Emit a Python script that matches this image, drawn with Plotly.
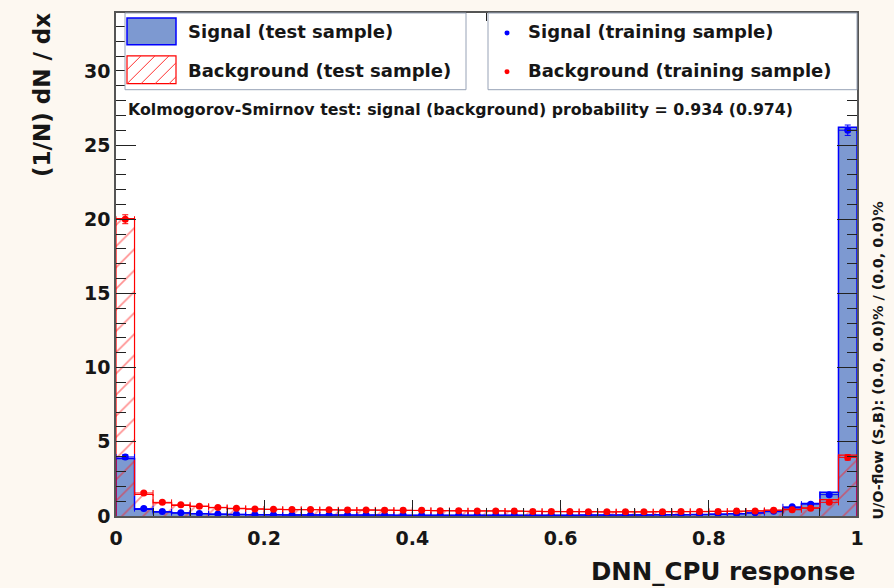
import numpy as np
import plotly.graph_objects as go

# DNN_CPU response histograms: 40 bins over [0, 1]
bin_edges = [round(0.025 * i, 3) for i in range(41)]
bin_centers = [round(0.0125 + 0.025 * i, 4) for i in range(40)]

sig_test = [3.87, 0.45, 0.27, 0.20, 0.16, 0.12, 0.10, 0.09, 0.08, 0.07,
            0.07, 0.06, 0.06, 0.06, 0.06, 0.05, 0.05, 0.05, 0.05, 0.05,
            0.05, 0.05, 0.05, 0.05, 0.05, 0.06, 0.06, 0.06, 0.07, 0.08,
            0.09, 0.10, 0.12, 0.15, 0.20, 0.30, 0.55, 0.85, 1.60, 26.2]
bkg_test = [20.05, 1.45, 0.88, 0.72, 0.65, 0.56, 0.50, 0.47, 0.44, 0.43,
            0.42, 0.41, 0.40, 0.40, 0.39, 0.38, 0.37, 0.36, 0.35, 0.35,
            0.34, 0.33, 0.32, 0.30, 0.30, 0.29, 0.28, 0.28, 0.28, 0.29,
            0.30, 0.30, 0.31, 0.32, 0.35, 0.40, 0.45, 0.55, 1.10, 4.10]
sig_train = [3.98, 0.50, 0.30, 0.22, 0.17, 0.13, 0.11, 0.09, 0.08, 0.07,
             0.07, 0.07, 0.06, 0.06, 0.06, 0.05, 0.05, 0.05, 0.05, 0.05,
             0.05, 0.05, 0.05, 0.05, 0.05, 0.06, 0.06, 0.07, 0.07, 0.08,
             0.09, 0.10, 0.13, 0.16, 0.22, 0.32, 0.62, 0.80, 1.44, 26.0]
bkg_train = [20.0, 1.55, 0.92, 0.75, 0.66, 0.58, 0.52, 0.48, 0.45, 0.44,
             0.43, 0.42, 0.40, 0.41, 0.39, 0.38, 0.38, 0.36, 0.36, 0.34,
             0.34, 0.33, 0.31, 0.31, 0.30, 0.29, 0.28, 0.29, 0.28, 0.29,
             0.30, 0.31, 0.31, 0.33, 0.34, 0.38, 0.42, 0.52, 0.92, 3.95]
sig_train_err = [0.15, 0.06, 0.05, 0.04, 0.04, 0.03, 0.03, 0.03, 0.03, 0.03,
                 0.03, 0.03, 0.03, 0.03, 0.03, 0.03, 0.03, 0.03, 0.03, 0.03,
                 0.03, 0.03, 0.03, 0.03, 0.03, 0.03, 0.03, 0.03, 0.03, 0.03,
                 0.03, 0.03, 0.04, 0.04, 0.05, 0.06, 0.08, 0.09, 0.12, 0.35]
bkg_train_err = [0.30, 0.10, 0.08, 0.07, 0.07, 0.06, 0.06, 0.06, 0.05, 0.05,
                 0.05, 0.05, 0.05, 0.05, 0.05, 0.05, 0.05, 0.05, 0.05, 0.05,
                 0.05, 0.05, 0.05, 0.05, 0.05, 0.05, 0.05, 0.05, 0.05, 0.05,
                 0.05, 0.05, 0.05, 0.05, 0.05, 0.05, 0.06, 0.06, 0.08, 0.18]

ks_text = "Kolmogorov-Smirnov test: signal (background) probability = 0.934 (0.974)"
uoflow_text = "U/O-flow (S,B): (0.0, 0.0)% / (0.0, 0.0)%"

FONT = "DejaVu Sans, Verdana, sans-serif"
TXT = "#161616"
SIG_FILL = "#7d99d1"
BIN_W = 0.025

# page geometry (pixels) of the plotting frame
W, H = 894, 588
L, R, T, B = 116, 857, 11, 516


def px(x):
    return (x - L) / (R - L)


def py(y):
    return (B - y) / (B - T)


def step_outline(vals):
    xs = [bin_edges[0]] + bin_edges[:-1] + [bin_edges[-1]]
    ys = [0] + list(vals) + [0]
    return xs, ys


fig = go.Figure()

# signal test sample: filled histogram
fig.add_trace(go.Bar(x=bin_centers, y=sig_test, width=BIN_W,
                     marker=dict(color=SIG_FILL, line=dict(width=0)),
                     showlegend=False, hoverinfo="skip"))
sx, sy = step_outline(sig_test)
fig.add_trace(go.Scatter(x=sx, y=sy, mode="lines", line_shape="hv",
                         line=dict(color="#0000ff", width=1.5),
                         showlegend=False, hoverinfo="skip"))

# background test sample: hatched histogram
fig.add_trace(go.Bar(x=bin_centers, y=bkg_test, width=BIN_W,
                     marker=dict(color="rgba(0,0,0,0)", line=dict(width=0),
                                 pattern=dict(shape="/", fgcolor="#ff2020",
                                              bgcolor="rgba(0,0,0,0)",
                                              fillmode="overlay",
                                              size=15, solidity=0.11)),
                     showlegend=False, hoverinfo="skip"))
bx, by = step_outline(bkg_test)
fig.add_trace(go.Scatter(x=bx, y=by, mode="lines", line_shape="hv",
                         line=dict(color="#ff0000", width=1.2),
                         showlegend=False, hoverinfo="skip"))

# training samples: points with error bars
half_w = [BIN_W / 2] * len(bin_centers)
for vals, errs, col in ((sig_train, sig_train_err, "#0000ff"),
                        (bkg_train, bkg_train_err, "#ff0000")):
    fig.add_trace(go.Scatter(
        x=bin_centers, y=vals, mode="markers",
        marker=dict(color=col, size=7),
        error_x=dict(type="data", array=half_w, color=col, thickness=1, width=3),
        error_y=dict(type="data", array=errs, color=col, thickness=1, width=3),
        showlegend=False, hoverinfo="skip"))

shapes = []
annotations = []

# legend boxes
BOX_LINE = "#97a2b6"
shapes.append(dict(type="rect", xref="paper", yref="paper",
                   x0=px(125), x1=px(466), y0=py(88), y1=py(T),
                   line=dict(color=BOX_LINE, width=1), fillcolor="white",
                   layer="above"))
shapes.append(dict(type="rect", xref="paper", yref="paper",
                   x0=px(488), x1=px(R), y0=py(88), y1=py(T),
                   line=dict(color=BOX_LINE, width=1), fillcolor="white",
                   layer="above"))

# filled swatch
shapes.append(dict(type="rect", xref="paper", yref="paper",
                   x0=px(127), x1=px(176), y0=py(43), y1=py(16),
                   line=dict(color="#0000ff", width=1.5), fillcolor=SIG_FILL,
                   layer="above"))
# hatched swatch
sw_x0, sw_x1, sw_y0, sw_y1 = 127, 176, 54, 82
shapes.append(dict(type="rect", xref="paper", yref="paper",
                   x0=px(sw_x0), x1=px(sw_x1), y0=py(sw_y1), y1=py(sw_y0),
                   line=dict(color="#ff0000", width=1.2), fillcolor="white",
                   layer="above"))
spacing = 14
for k in range(-3, 8):
    # 45-degree hatch line, clipped to the swatch rectangle
    start = sw_x0 + k * spacing
    xa, ya = start, sw_y1
    xb, yb = start + (sw_y1 - sw_y0), sw_y0
    if xa < sw_x0:
        ya -= sw_x0 - xa
        xa = sw_x0
    if xb > sw_x1:
        yb += xb - sw_x1
        xb = sw_x1
    if xa >= xb:
        continue
    shapes.append(dict(type="line", xref="paper", yref="paper",
                       x0=px(xa), y0=py(ya), x1=px(xb), y1=py(yb),
                       line=dict(color="#ff3030", width=1), layer="above"))

# marker swatches
for yy, col in ((31, "#0000ff"), (70, "#ff0000")):
    shapes.append(dict(type="circle", xref="paper", yref="paper",
                       x0=px(504.5), x1=px(509.5), y0=py(yy + 2.5), y1=py(yy - 2.5),
                       line=dict(color=col, width=0), fillcolor=col, layer="above"))

legend_font = dict(family=FONT, size=18, color=TXT)
for xx, yy, txt in ((186, 30, "Signal (test sample)"),
                    (186, 69, "Background (test sample)"),
                    (526, 30, "Signal (training sample)"),
                    (526, 69, "Background (training sample)")):
    annotations.append(dict(x=px(xx), y=py(yy), xref="paper", yref="paper",
                            text="<b>" + txt + "</b>", showarrow=False,
                            xanchor="left", yanchor="middle", font=legend_font))

annotations.append(dict(x=px(126), y=py(108), xref="paper", yref="paper",
                        text="<b>" + ks_text + "</b>", showarrow=False,
                        xanchor="left", yanchor="middle",
                        font=dict(family=FONT, size=15.8, color=TXT)))

annotations.append(dict(x=px(878), y=py(360), xref="paper", yref="paper",
                        text="<b>" + uoflow_text + "</b>", showarrow=False,
                        textangle=-90, xanchor="center", yanchor="middle",
                        font=dict(family=FONT, size=14.4, color=TXT)))

# axis titles
annotations.append(dict(x=px(42), y=py(9), xref="paper", yref="paper",
                        text="<b>(1/N) dN / dx</b>", showarrow=False,
                        textangle=-90, xanchor="center", yanchor="top",
                        font=dict(family=FONT, size=23, color=TXT)))
annotations.append(dict(x=px(R), y=py(572), xref="paper", yref="paper",
                        text="<b>DNN_CPU response</b>", showarrow=False,
                        xanchor="right", yanchor="middle",
                        font=dict(family=FONT, size=24.5, color=TXT)))

tick_font = dict(family=FONT, size=19, color=TXT)

fig.update_layout(
    width=W, height=H,
    margin=dict(l=L, r=W - R, t=T, b=H - B, pad=0),
    paper_bgcolor="#fdf8f1",
    plot_bgcolor="white",
    barmode="overlay",
    bargap=0,
    showlegend=False,
    shapes=shapes,
    annotations=annotations,
    xaxis=dict(range=[0, 1], tickvals=[0, 0.2, 0.4, 0.6, 0.8, 1.0],
               ticktext=["<b>0</b>", "<b>0.2</b>", "<b>0.4</b>", "<b>0.6</b>",
                         "<b>0.8</b>", "<b>1</b>"],
               ticks="inside", ticklen=16, tickwidth=1, tickcolor="#222222",
               ticklabelstandoff=4,
               mirror="allticks", showline=True, linecolor="#555555", linewidth=1.5,
               showgrid=False, zeroline=False, tickfont=tick_font,
               minor=dict(ticks="inside", ticklen=8, dtick=0.05, tick0=0,
                          tickcolor="#222222", showgrid=False)),
    yaxis=dict(range=[0, 33.9], tickvals=[0, 5, 10, 15, 20, 25, 30],
               ticktext=["<b>%d</b>" % v for v in [0, 5, 10, 15, 20, 25, 30]],
               ticks="inside", ticklen=20, tickwidth=1, tickcolor="#222222",
               mirror="allticks", showline=True, linecolor="#555555", linewidth=1.5,
               showgrid=False, zeroline=False, tickfont=tick_font,
               minor=dict(ticks="inside", ticklen=10, dtick=1, tick0=0,
                          tickcolor="#222222", showgrid=False)),
)

fig.write_html("out.html")
